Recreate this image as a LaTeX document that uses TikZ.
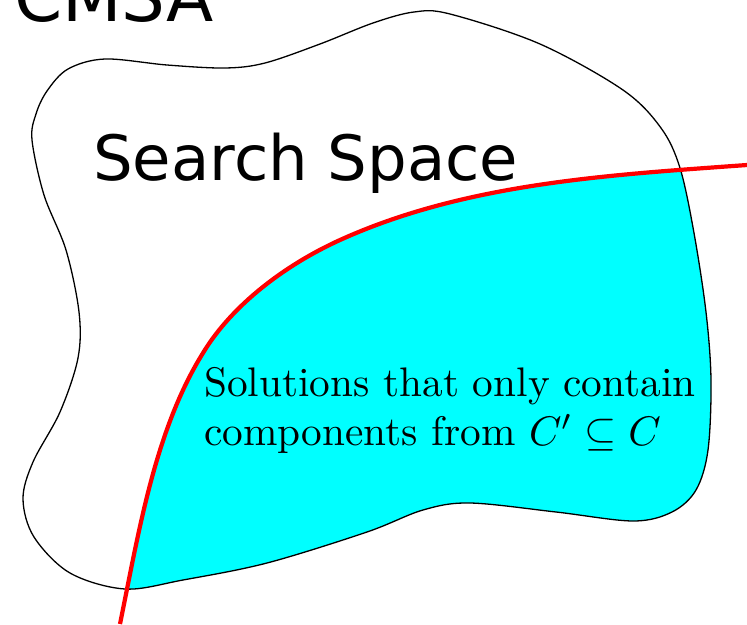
\documentclass[tikz,border=0pt]{standalone}
\usepackage{fontspec}
\usepackage{amsmath}
\usepackage{amssymb}
\usepackage{graphicx}
\usepackage{tikz}
\newfontfamily\labelfont{DejaVu Sans}
\definecolor{regionfill}{RGB}{0,255,255}
\definecolor{cutred}{RGB}{255,0,0}

\newcommand{\blobpath}{plot[smooth cycle,tension=0.55] coordinates {
    (32,140) (36,114) (47,91) (68,69) (105,59) (167,65) (225,68) (265,63)
    (320,44) (373,23) (414,12) (450,14) (540,44) (623,90) (661,128)
    (680,168) (694,233) (706,312) (711,380) (708,450) (696,490)
    (672,512) (633,521) (556,512) (470,503) (423,510) (367,532)
    (267,563) (183,580) (125,589) (70,573) (34,537) (23,499) (33,462)
    (60,412) (78,358) (79,312) (66,250) (44,195)}}

\newcommand{\cutpath}{(120,624) .. controls (139,531) and (155,430) .. (203,353)
    .. controls (232,305) and (285,265) .. (340,240)
    .. controls (466,183) and (609,175) .. (747,165)}

\begin{document}
\begin{tikzpicture}[x=1pt,y=-1pt,
    outline/.style={draw=black,line width=1.3pt},
    cutline/.style={draw=cutred,line width=4.2pt},
    biglabel/.style={font=\labelfont\fontsize{#1}{70}\selectfont,inner sep=0pt},
    bodytext/.style={font=\fontsize{10}{12.1}\selectfont,inner sep=0pt},
  ]

  \useasboundingbox (0,0) rectangle (747,624);

  % region on the C' side of the cut
  \begin{scope}
    \clip \blobpath;
    \fill[regionfill] \cutpath -- (800,165) -- (800,700) -- (100,700) -- cycle;
  \end{scope}

  \draw[outline] \blobpath;
  \draw[cutline] \cutpath;

  \node[biglabel=69,anchor=base west] (cmsa) at (14,21) {CMSA};
  \node[biglabel=62.5,anchor=base west] (space) at (93,180) {Search Space};

  \node[bodytext,anchor=base west] (solutions) at (204,396)
    {\scalebox{4.13}{\begin{tabular}[t]{@{}l@{}}Solutions that only contain\\
      components from $C' \subseteq C$\end{tabular}}};

\end{tikzpicture}
\end{document}
